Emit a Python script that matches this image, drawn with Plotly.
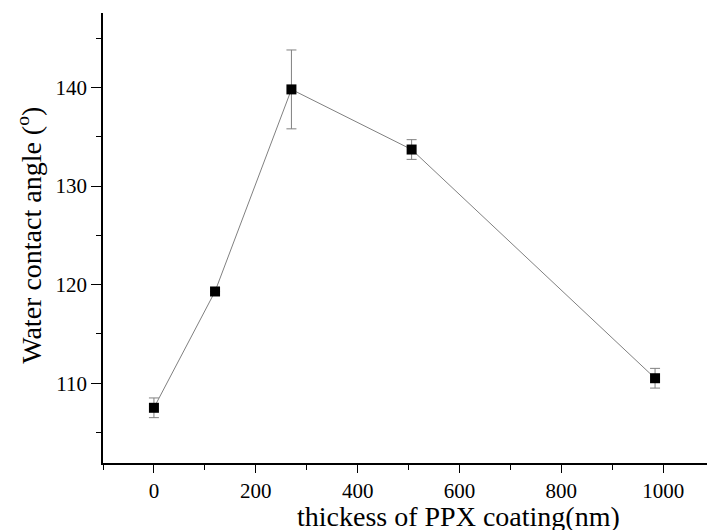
import plotly.graph_objects as go

thickness_nm = [0, 120, 270, 506, 984]
contact_angle = [107.5, 119.3, 139.8, 133.7, 110.5]
angle_error = [1.0, 0.0, 4.0, 1.0, 1.0]

x_tickvals = [0, 200, 400, 600, 800, 1000]
y_tickvals = [110, 120, 130, 140]

FONT = "Liberation Serif, Times New Roman, serif"

fig = go.Figure()
fig.add_trace(go.Scatter(
    x=thickness_nm, y=contact_angle,
    mode="lines+markers",
    line=dict(color="#808080", width=1),
    marker=dict(symbol="square", size=10, color="black", line=dict(width=0)),
    error_y=dict(type="data", array=angle_error, visible=True,
                 color="#808080", thickness=1, width=5),
    showlegend=False,
))

fig.update_layout(
    width=707, height=530,
    margin=dict(l=103, r=0, t=13, b=67),
    paper_bgcolor="white", plot_bgcolor="white",
    font=dict(family=FONT, size=21, color="black"),
    xaxis=dict(
        range=[-100, 1086], tickvals=x_tickvals, showgrid=False, zeroline=False,
        showline=True, linecolor="black", linewidth=1.5,
        ticks="outside", ticklen=8, tickwidth=1.2, tickcolor="black",
        minor=dict(dtick=100, tick0=0, ticks="outside", ticklen=5, tickwidth=1.2, tickcolor="black"),
        tickfont=dict(family=FONT, size=21),
    ),
    yaxis=dict(
        range=[101.9, 147.55], tickvals=y_tickvals, showgrid=False, zeroline=False,
        showline=True, linecolor="black", linewidth=1.5,
        ticks="outside", ticklen=10, tickwidth=1.2, tickcolor="black",
        minor=dict(dtick=5, tick0=0, ticks="outside", ticklen=5, tickwidth=1.2, tickcolor="black"),
        tickfont=dict(family=FONT, size=21),
    ),
    annotations=[
        dict(text="thickess of PPX coating(nm)", xref="paper", yref="paper",
             x=0.588, y=-0.119, xanchor="center", yanchor="middle",
             showarrow=False, font=dict(family=FONT, size=28)),
        dict(text="Water contact angle (<sup>o</sup>)", xref="paper", yref="paper",
             x=-0.121, y=0.507, xanchor="center", yanchor="middle", textangle=-90,
             showarrow=False, font=dict(family=FONT, size=28)),
    ],
)

fig.write_html(
    "out.html",
    config={"displayModeBar": False},
    post_script="document.body.style.margin='0';document.body.style.overflow='hidden';",
)
